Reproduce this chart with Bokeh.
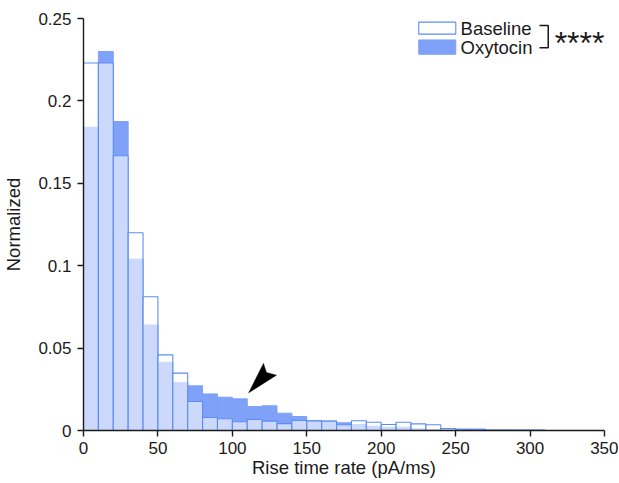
from bokeh.plotting import figure
from bokeh.embed import file_html
from bokeh.resources import INLINE
from bokeh.models import FixedTicker, CustomJSTickFormatter
from bokeh.core.properties import value

# ---- data (bin width 10, from 0 to 310) ----
bin_width = 10
bin_starts = list(range(0, 310, 10))
baseline = [0.223, 0.223, 0.1667, 0.120, 0.0812, 0.0459, 0.0348, 0.0176, 0.0079, 0.0071,
            0.0053, 0.0067, 0.0057, 0.0042, 0.0061, 0.0058, 0.0057, 0.0035, 0.0059, 0.0050,
            0.0036, 0.0050, 0.0040, 0.0035, 0.0012, 0.0008, 0.0008, 0.0002, 0.0002, 0.0002,
            0.0002]
oxytocin = [0.184, 0.230, 0.1875, 0.104, 0.064, 0.0414, 0.029, 0.0271, 0.0222, 0.0202,
            0.0192, 0.0145, 0.0150, 0.0105, 0.0085, 0.0061, 0.0057, 0.0047, 0.0036, 0.0026,
            0.0020, 0.0020, 0.0010, 0.0006, 0.0012, 0.0008, 0.0008, 0.0002, 0.0002, 0.0001,
            0.0001]
x_ticks = [0, 50, 100, 150, 200, 250, 300, 350]
y_ticks = [0, 0.05, 0.1, 0.15, 0.2, 0.25]
series_names = ["Baseline", "Oxytocin"]
significance = "****"
# arrow annotation (data coords): tip, wing, notch, wing
arrow_x = [111.0, 120.9, 122.9, 129.6]
arrow_y = [0.0229, 0.0407, 0.0352, 0.0336]

BLUE = "#7fa1f8"
EDGE = "#5b8df6"
FONT = "Liberation Sans"
INK = "#1a1a1a"

lefts = bin_starts
rights = [b + bin_width for b in bin_starts]

p = figure(frame_width=521, frame_height=412, x_range=(0, 350), y_range=(0, 0.25),
           output_backend="svg", toolbar_location=None,
           min_border_left=82, min_border_right=14, min_border_top=18, min_border_bottom=51)
p.outline_line_color = None
p.grid.grid_line_color = None
p.background_fill_color = "white"

p.quad(left=lefts, right=rights, bottom=0, top=oxytocin,
       fill_color=BLUE, line_color=BLUE, line_width=1)
p.quad(left=lefts, right=rights, bottom=0, top=baseline,
       fill_color="white", fill_alpha=0.6, line_color=EDGE, line_width=1.1)

# legend (placed in data units near top right)
p.quad(left=[225.2], right=[250.1], bottom=[0.2405], top=[0.2478],
       fill_color="white", line_color=EDGE, line_width=1.1)
p.quad(left=[225.2], right=[250.1], bottom=[0.2283], top=[0.2370],
       fill_color=BLUE, line_color=BLUE, line_width=1)
p.text(x=[253.3, 253.3], y=[0.2442, 0.2326], text=series_names,
       text_font=value(FONT), text_font_size="18.5px", text_color=INK,
       text_baseline="middle", text_align="left")
p.line(x=[306.3, 312.2, 312.2, 306.3], y=[0.2458, 0.2458, 0.2322, 0.2322],
       line_color=INK, line_width=1.5)
p.text(x=[316.5], y=[0.2350], text=[significance],
       text_font=value(FONT), text_font_size="32px", text_color=INK,
       text_baseline="alphabetic", text_align="left")

# arrowhead
p.patch(x=arrow_x, y=arrow_y, fill_color="black", line_color="black", line_width=0.5)

for ax in (p.xaxis[0], p.yaxis[0]):
    ax.axis_line_color = INK
    ax.axis_line_width = 1.4
    ax.major_tick_line_color = INK
    ax.major_tick_line_width = 1.4
    ax.major_tick_out = 6
    ax.major_tick_in = 0
    ax.minor_tick_line_color = None
    ax.major_label_text_font = FONT
    ax.major_label_text_font_size = "17px"
    ax.major_label_text_color = INK
    ax.axis_label_text_font = FONT
    ax.axis_label_text_font_size = "18.5px"
    ax.axis_label_text_font_style = "normal"
    ax.axis_label_text_color = INK

p.xaxis.ticker = FixedTicker(ticks=x_ticks)
p.yaxis.ticker = FixedTicker(ticks=y_ticks)
p.yaxis.formatter = CustomJSTickFormatter(code="return String(Number(tick.toFixed(4)));")
p.xaxis.formatter = CustomJSTickFormatter(code="return String(Number(tick.toFixed(4)));")
p.xaxis.axis_label = "Rise time rate (pA/ms)"
p.yaxis.axis_label = "Normalized"
p.xaxis.major_label_standoff = 5
p.xaxis.axis_label_standoff = 0
p.yaxis.major_label_standoff = 6
p.yaxis.axis_label_standoff = 11

open("out.html", "w").write(file_html(p, INLINE))
